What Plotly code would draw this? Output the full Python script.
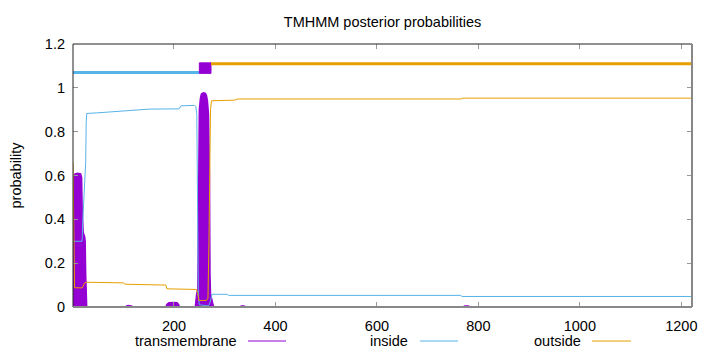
import plotly.graph_objects as go

# ---------------- data ----------------
seq_len = 1221

tm_pos = [1, 2, 3, 5, 10, 16, 18, 19, 20, 21, 24, 25, 26, 27, 28,
          104, 106, 110, 114, 117, 119,
          184, 186, 190, 200, 206, 209, 211,
          242, 244, 245, 247, 248, 249, 250, 252, 254, 258, 262, 264, 266, 268, 270, 271, 272, 274, 276, 278,
          330, 333, 338, 342,
          770, 773, 780, 784, 1221]
tm_prob = [0.04, 0.45, 0.59, 0.607, 0.61, 0.607, 0.59, 0.45, 0.36, 0.34, 0.32, 0.30, 0.15, 0.02, 0.0,
           0.0, 0.004, 0.007, 0.007, 0.004, 0.0,
           0.0, 0.012, 0.02, 0.021, 0.02, 0.012, 0.0,
           0.0, 0.05, 0.065, 0.07, 0.3, 0.75, 0.9, 0.95, 0.972, 0.977, 0.975, 0.965, 0.94, 0.88, 0.6, 0.15, 0.06, 0.04, 0.01, 0.0,
           0.0, 0.004, 0.004, 0.0,
           0.0, 0.004, 0.004, 0.0, 0.0]

in_pos = [1, 19, 20, 22, 24, 26, 27, 28, 50, 75, 100, 130, 150, 152,
          210, 214, 240, 243, 245, 246, 247, 248, 250,
          268, 271, 273, 275, 305, 308, 765, 768, 1221]
in_prob = [0.30, 0.30, 0.38, 0.50, 0.58, 0.66, 0.84, 0.883, 0.886, 0.890, 0.895, 0.899, 0.900, 0.903,
           0.904, 0.918, 0.920, 0.915, 0.88, 0.6, 0.3, 0.05, 0.01,
           0.005, 0.02, 0.05, 0.058, 0.058, 0.053, 0.053, 0.048, 0.048]

out_pos = [1, 2, 3, 4, 19, 21, 24, 27, 60, 101, 103, 184, 186,
           244, 247, 249, 264, 267, 269, 271, 272, 274,
           320, 325, 765, 770, 1221]
out_prob = [0.66, 0.40, 0.15, 0.088, 0.087, 0.095, 0.11, 0.113, 0.112, 0.11, 0.104, 0.100, 0.083,
            0.080, 0.06, 0.03, 0.03, 0.04, 0.3, 0.8, 0.9, 0.941,
            0.944, 0.949, 0.949, 0.953, 0.953]

# predicted topology segments
topo_start = [1, 250, 273]
topo_end = [250, 273, 1221]
topo_label = ["inside", "TMhelix", "outside"]

x_ticks = [200, 400, 600, 800, 1000, 1200]
y_ticks = [0, 0.2, 0.4, 0.6, 0.8, 1, 1.2]
legend_names = ["transmembrane", "inside", "outside"]

# ---------------- styling ----------------
PURPLE = "#9400d3"
BLUE = "#56b4e9"
ORANGE = "#e69f00"
FONT = "Liberation Sans, Arial, sans-serif"

W, H = 720, 352
L, R, T, B = 73, 692, 44, 307   # plot area in pixels

fig = go.Figure()

# transmembrane (impulses -> filled area)
fig.add_trace(go.Scatter(x=tm_pos, y=tm_prob, mode="lines", fill="tozeroy",
                         line=dict(color=PURPLE, width=1.5), fillcolor=PURPLE,
                         showlegend=False, hoverinfo="skip"))
fig.add_trace(go.Scatter(x=in_pos, y=in_prob, mode="lines",
                         line=dict(color=BLUE, width=1), showlegend=False))
fig.add_trace(go.Scatter(x=out_pos, y=out_prob, mode="lines",
                         line=dict(color=ORANGE, width=1), showlegend=False))

# topology bars on top
for s, e, lab in zip(topo_start, topo_end, topo_label):
    if lab == "inside":
        fig.add_trace(go.Scatter(x=[s, e], y=[1.07, 1.07], mode="lines",
                                 line=dict(color=BLUE, width=3), showlegend=False))
    elif lab == "outside":
        fig.add_trace(go.Scatter(x=[s, e], y=[1.11, 1.11], mode="lines",
                                 line=dict(color=ORANGE, width=3), showlegend=False))
    else:
        fig.add_trace(go.Scatter(x=[s, e, e, s, s], y=[1.066, 1.066, 1.114, 1.114, 1.066],
                                 mode="lines", fill="toself", fillcolor=PURPLE,
                                 line=dict(color=PURPLE, width=1), showlegend=False))

def px_x(p):
    return (p - L) / (R - L)

def px_y(p):
    return (B - p) / (B - T)

shapes = [
    dict(type="line", xref="paper", yref="paper", x0=0, x1=0, y0=0, y1=1,
         line=dict(color="#222", width=1)),
    dict(type="line", xref="paper", yref="paper", x0=0, x1=1, y0=1, y1=1,
         line=dict(color="#222", width=1)),
    dict(type="line", xref="paper", yref="paper", x0=1, x1=1, y0=0, y1=1,
         line=dict(color="#888", width=2)),
    dict(type="line", xref="paper", yref="paper", x0=0, x1=1, y0=0, y1=0,
         line=dict(color="#888", width=2)),
]

annotations = [
    dict(text="probability", xref="paper", yref="paper", x=px_x(15), y=0.5,
         textangle=-90, showarrow=False, font=dict(family=FONT, size=14.5, color="#000"),
         xanchor="center", yanchor="middle"),
]

# key below the plot: text right-aligned, then sample line
key_text_right = [239, 410, 583]
key_line = [(248, 286), (420, 458), (592, 631)]
key_colors = [PURPLE, BLUE, ORANGE]
key_y = 341
for name, tr, (l0, l1), c in zip(legend_names, key_text_right, key_line, key_colors):
    annotations.append(dict(text=name, xref="paper", yref="paper", x=px_x(tr), y=px_y(key_y),
                            xanchor="right", yanchor="middle", showarrow=False,
                            font=dict(family=FONT, size=14.5, color="#000")))
    shapes.append(dict(type="line", xref="paper", yref="paper", x0=px_x(l0), x1=px_x(l1),
                       y0=px_y(key_y), y1=px_y(key_y), line=dict(color=c, width=1)))

fig.update_layout(
    width=W, height=H,
    margin=dict(l=L, r=W - R, t=T, b=H - B),
    paper_bgcolor="white", plot_bgcolor="white",
    title=dict(text="TMHMM posterior probabilities", x=0.5 * (L + R) / W, xanchor="center",
               y=1 - 22 / H, yanchor="middle", font=dict(family=FONT, size=14.5, color="#000")),
    font=dict(family=FONT, size=14.5, color="#000"),
    shapes=shapes,
    annotations=annotations,
    xaxis=dict(range=[1, seq_len], tickvals=x_ticks, ticktext=[str(v) for v in x_ticks],
               ticks="inside", ticklen=5, tickcolor="#999", mirror="ticks",
               showline=False, showgrid=False, zeroline=False, ticklabelstandoff=8,
               tickfont=dict(family=FONT, size=14.5, color="#000")),
    yaxis=dict(range=[0, 1.2], tickvals=y_ticks, ticktext=["0", "0.2", "0.4", "0.6", "0.8", "1", "1.2"],
               ticks="inside", ticklen=5, tickcolor="#999", mirror="ticks",
               showline=False, showgrid=False, zeroline=False, ticklabelstandoff=7,
               tickfont=dict(family=FONT, size=14.5, color="#000")),
)

fig.write_html("out.html")
